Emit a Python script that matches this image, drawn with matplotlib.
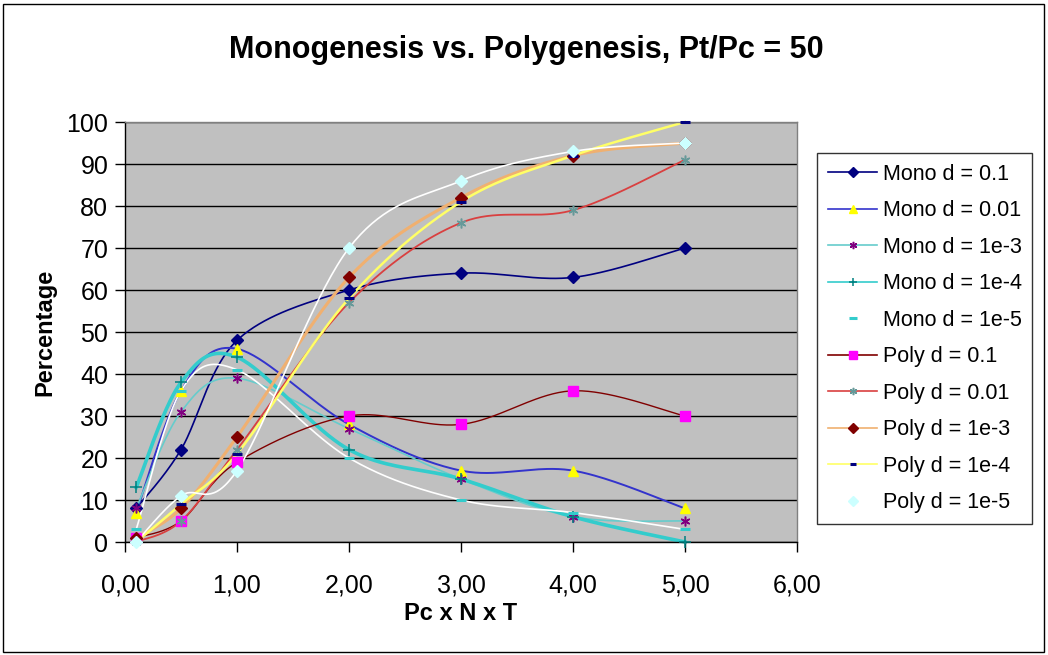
import numpy as np
import matplotlib
matplotlib.use("Agg")
import matplotlib.pyplot as plt
from matplotlib.patches import Rectangle

plt.rcParams['font.family'] = ['Liberation Sans', 'DejaVu Sans']

# Pc x N x T values
x_vals = [0.1, 0.5, 1, 2, 3, 4, 5]

mono_d01 = [8, 22, 48, 60, 64, 63, 70]
mono_d001 = [7, 36, 46, 28, 17, 17, 8]
mono_d1e3 = [8, 31, 39, 27, 15, 6, 5]
mono_d1e4 = [13, 38, 44, 22, 15, 6, 0]
mono_d1e5 = [3, 36, 41, 20, 10, 7, 3]
poly_d01 = [1, 5, 19, 30, 28, 36, 30]
poly_d001 = [0, 5, 22, 57, 76, 79, 91]
poly_d1e3 = [1, 8, 25, 63, 82, 92, 95]
poly_d1e4 = [0, 9, 21, 58, 81, 92, 100]
poly_d1e5 = [0, 11, 17, 70, 86, 93, 95]

labels = ["Mono d = 0.1", "Mono d = 0.01", "Mono d = 1e-3", "Mono d = 1e-4",
          "Mono d = 1e-5", "Poly d = 0.1", "Poly d = 0.01", "Poly d = 1e-3",
          "Poly d = 1e-4", "Poly d = 1e-5"]
series = [mono_d01, mono_d001, mono_d1e3, mono_d1e4, mono_d1e5,
          poly_d01, poly_d001, poly_d1e3, poly_d1e4, poly_d1e5]

x_ticks = [0, 1, 2, 3, 4, 5, 6]
x_tick_labels = ["0,00", "1,00", "2,00", "3,00", "4,00", "5,00", "6,00"]
y_ticks = list(range(0, 101, 10))

ASTER = (6, 2, 0)
styles = [
    dict(color='#000080', lw=1.2, marker='D', mfc='#000080', mec='#000080', ms=6.3),
    dict(color='#3333CC', lw=1.4, marker='^', mfc='#FFFF00', mec='#FFFF00', ms=7.5),
    dict(color='#66CCCC', lw=1.2, marker=ASTER, mfc='#800080', mec='#800080', ms=7, mew=1.1),
    dict(color='#33CCCC', lw=2.6, marker='+', mfc='#008080', mec='#008080', ms=8, mew=1.1),
    dict(color='#FFFFFF', lw=1.2, marker='_', mfc='#33CCCC', mec='#33CCCC', ms=7.5, mew=2.2),
    dict(color='#800000', lw=1.0, marker='s', mfc='#FF00FF', mec='#FF00FF', ms=6.8),
    dict(color='#D94040', lw=1.3, marker=ASTER, mfc='#669999', mec='#669999', ms=7, mew=1.1),
    dict(color='#F0B070', lw=2.2, marker='D', mfc='#800000', mec='#800000', ms=6.3),
    dict(color='#FFFF66', lw=1.8, marker='_', mfc='#000080', mec='#000080', ms=6.5, mew=2.2),
    dict(color='#FFFFFF', lw=1.2, marker='D', mfc='#CCFFFF', mec='#CCFFFF', ms=6.3),
]

W, H = 1048, 655
fig = plt.figure(figsize=(W / 100, H / 100), dpi=100)
fig.patch.set_facecolor('white')
fig.add_artist(Rectangle((3 / W, 3 / H), 1 - 7 / W, 1 - 7 / H, transform=fig.transFigure,
                         fill=False, edgecolor='black', lw=1.0))

ax_l, ax_r, ax_t, ax_b = 125, 797, 122, 542
ax = fig.add_axes([ax_l / W, 1 - ax_b / H, (ax_r - ax_l) / W, (ax_b - ax_t) / H])
ax.set_facecolor('#C0C0C0')
ax.set_xlim(0, 6)
ax.set_ylim(0, 100)

# pixel scale of one data unit, used so the smoothing follows screen geometry
sx = (ax_r - ax_l) / 6.0
sy = (ax_b - ax_t) / 100.0


def smooth(xs, ys, n=40):
    px = np.asarray(xs, float) * sx
    py = np.asarray(ys, float) * sy
    P = np.column_stack([px, py])
    pts = [P[0]]
    for i in range(len(P) - 1):
        p0 = P[i - 1] if i > 0 else P[i]
        p1 = P[i]
        p2 = P[i + 1]
        p3 = P[i + 2] if i + 2 < len(P) else P[i + 1]
        c1 = p1 + (p2 - p0) / 6.0
        c2 = p2 - (p3 - p1) / 6.0
        t = np.linspace(0, 1, n)[1:, None]
        seg = ((1 - t) ** 3) * p1 + 3 * ((1 - t) ** 2) * t * c1 + 3 * (1 - t) * t ** 2 * c2 + t ** 3 * p2
        pts.extend(seg)
    pts = np.array(pts)
    return pts[:, 0] / sx, pts[:, 1] / sy


ax.yaxis.grid(True, color='black', lw=1.0)
ax.set_axisbelow(True)

handles = []
for ys, st, lab in zip(series, styles, labels):
    cx, cy = smooth(x_vals, ys)
    ax.plot(cx, cy, color=st['color'], lw=st['lw'], zorder=2, clip_on=False)
    ax.plot(x_vals, ys, linestyle='none', marker=st['marker'], ms=st['ms'],
            mfc=st['mfc'], mec=st['mec'], mew=st.get('mew', 1.0), zorder=3, clip_on=False)
    h, = ax.plot([], [], color=st['color'], lw=1.2, marker=st['marker'], ms=st['ms'] * 0.75,
                 mfc=st['mfc'], mec=st['mec'], mew=st.get('mew', 1.0))
    handles.append(h)

ax.set_xticks(x_ticks)
ax.set_xticklabels(x_tick_labels)
ax.set_yticks(y_ticks)
ax.tick_params(axis='both', labelsize=18, direction='out', length=7, width=1, color='black')
ax.tick_params(axis='x', pad=16)
ax.tick_params(axis='y', pad=5)

for side in ['left', 'bottom']:
    ax.spines[side].set_color('black')
    ax.spines[side].set_linewidth(1.0)
for side in ['top', 'right']:
    ax.spines[side].set_color('#808080')
    ax.spines[side].set_linewidth(1.0)

ax.set_xlabel("Pc x N x T", fontsize=17, fontweight='bold', labelpad=3)
ax.set_ylabel("Percentage", fontsize=17, fontweight='bold', labelpad=7)

fig.text(526 / W, 1 - 50 / H, "Monogenesis vs. Polygenesis, Pt/Pc = 50",
         ha='center', va='center', fontsize=22, fontweight='bold')

leg = fig.legend(handles, labels, loc='upper left', bbox_to_anchor=(817 / W, 1 - 153 / H),
                 fontsize=15.5, frameon=True, fancybox=False, edgecolor='black',
                 borderpad=0.5, labelspacing=0.72, handlelength=2.3, handletextpad=0.25,
                 borderaxespad=0)
leg.get_frame().set_linewidth(1.0)

fig.savefig("out.png", dpi=100, facecolor='white')
